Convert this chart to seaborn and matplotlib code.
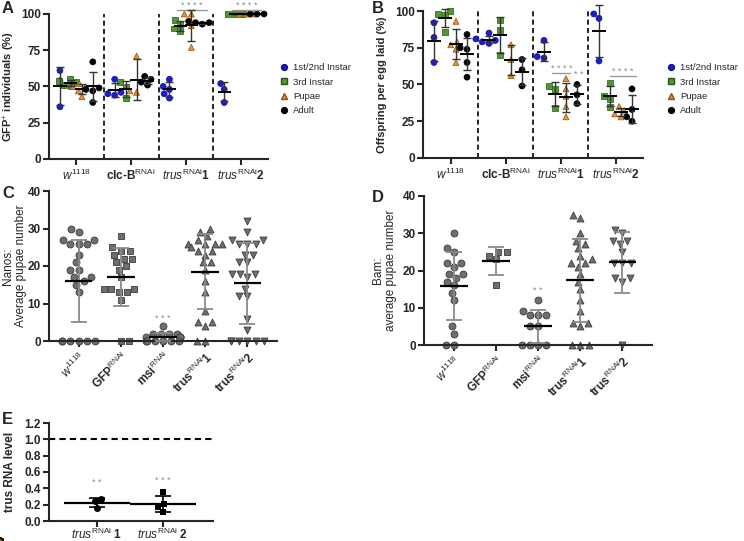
import numpy as np
import pandas as pd
import matplotlib.pyplot as plt
import seaborn as sns
from matplotlib.lines import Line2D

sns.set_style("ticks")
plt.rcParams['font.family'] = ['Liberation Sans', 'DejaVu Sans']
plt.rcParams['mathtext.fontset'] = 'custom'
plt.rcParams['mathtext.rm'] = 'Liberation Sans'
plt.rcParams['mathtext.it'] = 'Liberation Sans:italic'
plt.rcParams['mathtext.bf'] = 'Liberation Sans:bold'
plt.rcParams['axes.linewidth'] = 1.5

# ---------------- data ----------------
stages = ["1st/2nd Instar", "3rd Instar", "Pupae", "Adult"]
lines_ab = ["w1118", "clcB", "trus1", "trus2"]

# panel A: GFP+ individuals (%), one list per genotype
gfp_l12 = [[61, 54, 36], [55, 46, 44, 45], [55, 50, 48, 45, 42], [52, 48, 39]]
gfp_l3 = [[53, 55, 51, 50, 54], [53, 42, 50], [96, 93, 90, 88], [100, 100, 100]]
gfp_pupae = [[47, 49, 52, 43, 50], [71, 47, 46], [100, 100, 92, 77], [100, 100, 100]]
gfp_adult = [[67, 49, 48, 47, 39], [57, 55, 53, 51], [95, 94, 93, 94], [100, 100, 100]]

# panel B: offspring per egg laid (%)
offs_l12 = [[92, 82, 65], [85, 81, 80, 78, 79], [80, 69, 68], [98, 95, 66]]
offs_l3 = [[100, 98, 97, 86], [94, 87, 70], [49, 47, 34], [51, 42, 40, 35]]
offs_pupae = [[93, 79, 77, 74, 65], [77, 67, 56], [54, 47, 42, 35, 28], [35, 32, 30, 28]]
offs_adult = [[84, 75, 74, 65, 55], [67, 60, 49], [50, 43, 37], [47, 33, 28, 25]]

# panel C: Nanos, average pupae number
nanos_w1118 = [30, 29, 27, 27, 26, 26, 26, 23, 21, 19, 19, 17, 17, 16, 15, 13, 0, 0, 0, 0, 0, 0]
nanos_gfp = [28, 25, 24, 24, 23, 22, 22, 21, 20, 19, 17, 14, 14, 14, 13, 13, 11, 0, 0]
nanos_msi = [4, 2, 2, 2, 2, 1, 1, 1, 1, 0, 0, 0, 0, 0, 0]
nanos_trus1 = [30, 29, 28, 27, 26, 26, 26, 26, 25, 24, 24, 23, 21, 21, 19, 16, 13, 8, 5, 5, 4, 0, 0]
nanos_trus2 = [32, 29, 27, 27, 26, 26, 26, 23, 23, 21, 21, 18, 18, 18, 17, 14, 12, 12, 6, 3,
               0, 0, 0, 0, 0, 0]

# panel D: Bam, average pupae number
bam_w1118 = [30, 26, 25, 22, 22, 21, 19, 19, 18, 17, 16, 14, 12, 5, 3, 0, 0]
bam_gfp = [25, 25, 24, 23, 16]
bam_msi = [12, 9, 8, 8, 8, 5, 5, 0, 0, 0, 0]
bam_trus1 = [35, 34, 30, 28, 27, 26, 24, 23, 22, 22, 21, 19, 17, 15, 12, 9, 6, 6, 5, 0, 0, 0]
bam_trus2 = [31, 30, 28, 28, 27, 25, 22, 22, 22, 18, 18, 17, 0]

# panel E: trus RNA level
qpcr_trus1 = [0.27, 0.24, 0.16]
qpcr_trus2 = [0.35, 0.21, 0.17, 0.11]

lines_cd = ["w1118", "GFP", "msi", "trus1", "trus2"]

# ---------------- style ----------------
stage_colors = {"1st/2nd Instar": "#1c1cd8", "3rd Instar": "#4f9a2c",
                "Pupae": "#eb9130", "Adult": "#000000"}
stage_edges = {"1st/2nd Instar": "#10108a", "3rd Instar": "#2a5518",
               "Pupae": "#8a5210", "Adult": "#000000"}
stage_markers = {"1st/2nd Instar": "o", "3rd Instar": "s", "Pupae": "^", "Adult": "o"}

TICK_FS = 8.5
XLAB_FS = 8.5
YLAB_FS = 8.0

W, H = 744, 541
fig = plt.figure(figsize=(W / 100, H / 100), dpi=100)


def px_axes(left, right, top, bottom):
    return fig.add_axes([left / W, 1 - bottom / H, (right - left) / W, (bottom - top) / H])


def place_ylabel(ax, right_px):
    # put the (rotated) label's right edge at a given figure pixel column
    left, _, width, _ = ax.get_position().bounds
    ax.yaxis.set_label_coords((right_px / W - left) / width, 0.5)


def long_frame(lists_by_stage):
    rows = []
    for stage, per_line in zip(stages, lists_by_stage):
        for line, vals in zip(lines_ab, per_line):
            for v in vals:
                rows.append({"line": line, "stage": stage, "value": v})
    return pd.DataFrame(rows)


def draw_mean_sd(ax, x, vals, hw, cap, ecolor, lw_err, lw_mean):
    vals = np.asarray(vals, dtype=float)
    m, sd = vals.mean(), vals.std(ddof=1)
    ax.errorbar([x], [m], yerr=[sd], fmt="none", ecolor=ecolor, elinewidth=lw_err,
                capsize=cap, capthick=lw_err, zorder=4, clip_on=False)
    ax.hlines(m, x - hw, x + hw, color="black", lw=lw_mean, zorder=5, clip_on=False)


def style_axes(ax, ylim, yticks, xlim):
    ax.set_ylim(*ylim)
    ax.set_yticks(yticks)
    ax.set_xlim(*xlim)
    sns.despine(ax=ax)
    ax.tick_params(axis="both", length=4, width=1.5, labelsize=TICK_FS, pad=2)
    for t in ax.get_yticklabels():
        t.set_fontweight("bold")
    for c in ax.collections:
        c.set_clip_on(False)


def stage_panel(ax, df, ylabel):
    offsets = [-0.3, -0.1, 0.1, 0.3]
    for stage in stages:
        sub = df[df["stage"] == stage]
        sns.swarmplot(data=sub, x="line", y="value", hue="stage", hue_order=stages,
                      order=lines_ab, dodge=True, palette=stage_colors,
                      marker=stage_markers[stage], size=4.3, linewidth=0.5,
                      edgecolor=stage_edges[stage], legend=False, ax=ax, zorder=2)
    for i, line in enumerate(lines_ab):
        for j, stage in enumerate(stages):
            vals = df[(df["line"] == line) & (df["stage"] == stage)]["value"]
            draw_mean_sd(ax, i + offsets[j], vals, 0.12, 3.2, "#333333", 1.0, 1.4)
    for b in [0.5, 1.5, 2.5]:
        ax.axvline(b, color="black", lw=1.2, ls=(0, (3, 2)), zorder=1)
    style_axes(ax, (0, 100), [0, 25, 50, 75, 100], (-0.5, 3.5))
    ax.set_xticks(range(4))
    ax.set_xticklabels([r"$\mathit{w}^{\mathit{1118}}$", r"clc-B$^{\mathrm{RNAi}}$",
                        r"$\mathit{trus}^{\mathrm{RNAi}}$1", r"$\mathit{trus}^{\mathrm{RNAi}}$2"],
                       fontsize=XLAB_FS, fontweight="bold")
    ax.set_xlabel("")
    ax.set_ylabel(ylabel, fontsize=YLAB_FS, fontweight="bold")


def sig(ax, x0, x1, y, text, line=True, dy=0.0):
    if line:
        ax.plot([x0, x1], [y, y], color="#999999", lw=1.0, clip_on=False, zorder=3)
    ax.text((x0 + x1) / 2, y + dy, text, color="#888888", fontsize=6.5, ha="center",
            va="bottom", clip_on=False)


def group_panel(ax, lists, marker_list, ylabel, ylim, yticks, xlim, labels, size,
                color, edge, hw, cap, ecolor, lw_err, rot=45):
    rows = []
    for line, vals in zip(lines_cd, lists):
        for v in vals:
            rows.append({"line": line, "value": v})
    df = pd.DataFrame(rows)
    for line, mk in zip(lines_cd, marker_list):
        sns.swarmplot(data=df[df["line"] == line], x="line", y="value", order=lines_cd,
                      color=color, marker=mk, size=size, linewidth=0.6, edgecolor=edge,
                      ax=ax, zorder=2)
    for i, vals in enumerate(lists):
        draw_mean_sd(ax, i, vals, hw, cap, ecolor, lw_err, 1.6)
    style_axes(ax, ylim, yticks, xlim)
    ax.set_xticks(range(len(lists)))
    ax.set_xticklabels(labels, fontsize=XLAB_FS, fontweight="bold", rotation=rot,
                       ha="right", rotation_mode="anchor")
    ax.set_xlabel("")
    ax.set_ylabel(ylabel, fontsize=YLAB_FS + 0.5, linespacing=1.1)


# ---------------- panel A ----------------
axA = px_axes(49, 268, 14, 159)
stage_panel(axA, long_frame([gfp_l12, gfp_l3, gfp_pupae, gfp_adult]),
            r"GFP$^{+}$ individuals (%)")
place_ylabel(axA, 17)
sig(axA, 1.84, 2.38, 103, "* * * *")
sig(axA, 2.84, 3.38, 103, "* * * *")

# ---------------- panel B ----------------
axB = px_axes(423, 643, 11, 158)
stage_panel(axB, long_frame([offs_l12, offs_l3, offs_pupae, offs_adult]),
            "Offspring per egg laid (%)")
place_ylabel(axB, 387)
sig(axB, 1.85, 2.18, 58, "* * * *")
sig(axB, 2.33, 2.33, 54, "* *", line=False)
sig(axB, 2.9, 3.38, 56, "* * * *")

for xpos in (271, 658):
    handles = [Line2D([], [], ls="", marker=stage_markers[s], color=stage_colors[s],
                      markeredgecolor=stage_edges[s], markersize=4.2) for s in stages]
    fig.legend(handles, stages, loc="upper left",
               bbox_to_anchor=(xpos / W, 1 - 55 / H), frameon=False, fontsize=6.8,
               labelspacing=0.55, handletextpad=0.45, handlelength=1.0)

# ---------------- panel C ----------------
cd_labels = [r"$\mathit{w}^{\mathit{1118}}$", r"GFP$^{\mathrm{RNAi}}$", r"msi$^{\mathrm{RNAi}}$",
             r"trus$^{\mathrm{RNAi}}$1", r"trus$^{\mathrm{RNAi}}$2"]
axC = px_axes(49, 277, 191, 341)
group_panel(axC, [nanos_w1118, nanos_gfp, nanos_msi, nanos_trus1, nanos_trus2],
            ["o", "s", "o", "^", "v"], "Nanos:\nAverage pupae number", (0, 40),
            [0, 10, 20, 30, 40], (-0.7, 4.7), cd_labels, 5.0, "#6e6e6e", "#3c3c3c",
            0.33, 5.5, "#8a8a8a", 1.3)
place_ylabel(axC, 27)
sig(axC, 2, 2, 4.8, "* * *", line=False)

# ---------------- panel D ----------------
axD = px_axes(424, 652, 196, 345)
group_panel(axD, [bam_w1118, bam_gfp, bam_msi, bam_trus1, bam_trus2],
            ["o", "s", "o", "^", "v"], "Bam:\naverage pupae number", (0, 40),
            [0, 10, 20, 30, 40], (-0.71, 4.7), cd_labels, 5.0, "#6e6e6e", "#3c3c3c",
            0.33, 5.5, "#8a8a8a", 1.3)
place_ylabel(axD, 397)
sig(axD, 2, 2, 13.5, "* *", line=False)

# ---------------- panel E ----------------
axE = px_axes(49, 213, 423, 521)
rowsE = [{"line": "trus1", "value": v} for v in qpcr_trus1] + \
        [{"line": "trus2", "value": v} for v in qpcr_trus2]
dfE = pd.DataFrame(rowsE)
for line, mk in zip(["trus1", "trus2"], ["o", "s"]):
    sns.swarmplot(data=dfE[dfE["line"] == line], x="line", y="value",
                  order=["trus1", "trus2"], color="black", marker=mk, size=5.0,
                  ax=axE, zorder=2)
for i, vals in enumerate([qpcr_trus1, qpcr_trus2]):
    draw_mean_sd(axE, i, vals, 0.5, 6, "black", 1.2, 1.6)
axE.axhline(1.0, color="black", lw=1.5, ls=(0, (3, 2)), zorder=1)
style_axes(axE, (0, 1.2), np.arange(0, 1.21, 0.2), (-0.73, 1.76))
axE.set_yticklabels([f"{t:.1f}" for t in np.arange(0, 1.21, 0.2)], fontweight="bold")
axE.set_xticks([0, 1])
axE.set_xticklabels([r"$\mathit{trus}^{\mathrm{RNAi}}$ 1", r"$\mathit{trus}^{\mathrm{RNAi}}$ 2"],
                    fontsize=XLAB_FS, fontweight="bold")
axE.tick_params(axis="x", pad=0.5)
axE.set_xlabel("")
axE.set_ylabel("trus RNA level", fontsize=YLAB_FS + 0.5, fontweight="bold")
place_ylabel(axE, 16)
sig(axE, 0, 0, 0.42, "* *", line=False)
sig(axE, 1, 1, 0.44, "* * *", line=False)

# panel letters
for letter, (x, y) in {"A": (2, 1), "B": (372, 1), "C": (2, 186), "D": (372, 190),
                       "E": (2, 412)}.items():
    fig.text(x / W, 1 - y / H, letter, fontsize=12, fontweight="bold", va="top")

fig.savefig("out.png", dpi=100)
